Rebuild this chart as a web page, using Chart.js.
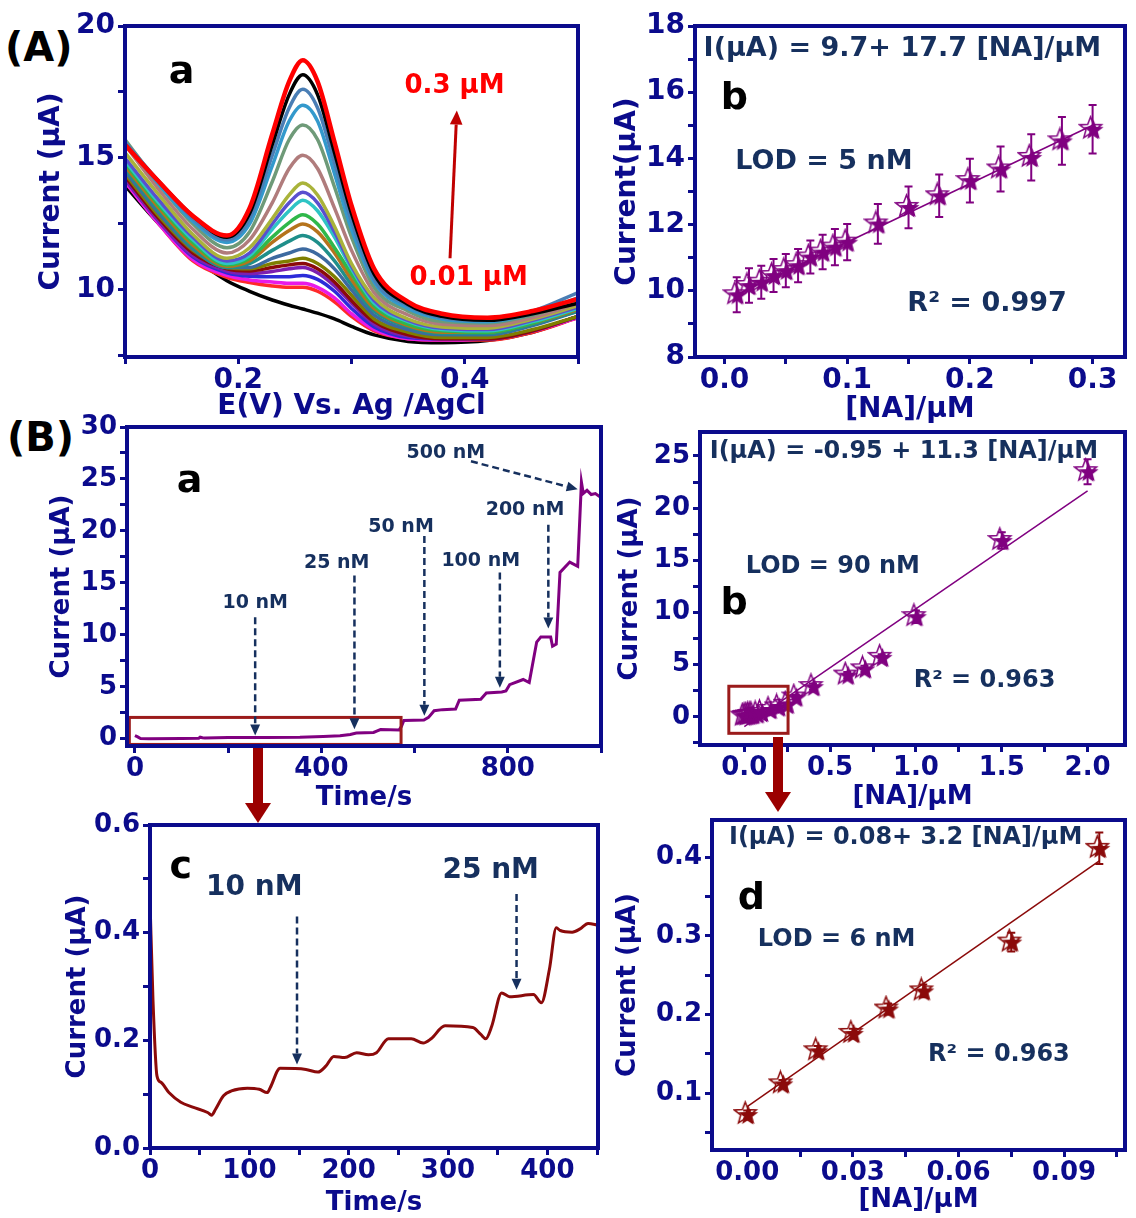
<!DOCTYPE html>
<html>
<head>
<meta charset="utf-8">
<script src="https://cdn.jsdelivr.net/npm/chart.js@4.4.0/dist/chart.umd.min.js"></script>
<style>
  body { margin: 0; background: #fff; }
  #page { position: relative; width: 1136px; height: 1218px; overflow: hidden; background: #fff; }
  #page canvas { position: absolute; }
  .tag { position: absolute; font: bold 40px "DejaVu Sans", sans-serif; color: #000; }
  #links { position: absolute; left: 0; top: 0; pointer-events: none; }
</style>
</head>
<body>
<div id="page">
  <div class="tag" style="left:5px;top:24px">(A)</div>
  <div class="tag" style="left:7px;top:414px">(B)</div>
</div>
<script>
// (A) a - DPV curves, potential grid and one current row per concentration (top one = 0.3 µM)
const dpvE = [0.10, 0.13, 0.16, 0.19, 0.21, 0.23, 0.245, 0.257, 0.27, 0.285, 0.30, 0.32, 0.35, 0.38, 0.42, 0.46, 0.50];
const dpvCurves = [
  [15.5, 14.1, 12.8, 12.06, 13.1, 15.9, 17.9, 18.7, 17.9, 15.6, 13.2, 10.8, 9.55, 9.1, 8.95, 9.2, 9.66],
  [15.5, 14.1, 12.8, 12.0, 12.9, 15.5, 17.4, 18.15, 17.4, 15.2, 12.9, 10.6, 9.45, 9.0, 8.85, 9.1, 9.5],
  [15.6, 14.1, 12.7, 11.9, 12.7, 15.1, 16.9, 17.6, 16.9, 14.8, 12.6, 10.4, 9.4, 8.95, 8.85, 9.2, 9.9],
  [15.6, 14.0, 12.6, 11.8, 12.5, 14.7, 16.4, 17.0, 16.4, 14.4, 12.3, 10.3, 9.3, 8.9, 8.8, 9.1, 9.7],
  [15.7, 14.0, 12.5, 11.6, 12.2, 14.1, 15.7, 16.25, 15.7, 13.9, 12.0, 10.1, 9.2, 8.8, 8.75, 9.05, 9.6],
  [15.5, 13.8, 12.3, 11.4, 11.9, 13.3, 14.6, 15.1, 14.6, 13.1, 11.5, 9.9, 9.05, 8.7, 8.65, 8.95, 9.5],
  [15.2, 13.6, 12.1, 11.2, 11.6, 12.7, 13.6, 14.05, 13.6, 12.4, 11.0, 9.7, 8.9, 8.6, 8.55, 8.9, 9.4],
  [15.0, 13.4, 12.0, 11.1, 11.4, 12.5, 13.3, 13.7, 13.3, 12.2, 10.9, 9.6, 8.85, 8.55, 8.5, 8.85, 9.35],
  [14.9, 13.3, 11.9, 11.0, 11.3, 12.3, 13.0, 13.4, 13.0, 12.0, 10.8, 9.5, 8.8, 8.5, 8.45, 8.8, 9.3],
  [14.8, 13.2, 11.8, 10.95, 11.2, 12.0, 12.55, 12.85, 12.5, 11.6, 10.6, 9.4, 8.7, 8.45, 8.4, 8.75, 9.3],
  [14.7, 13.1, 11.7, 10.9, 11.1, 11.8, 12.25, 12.5, 12.2, 11.4, 10.4, 9.3, 8.65, 8.4, 8.4, 8.75, 9.25],
  [14.6, 13.0, 11.6, 10.85, 11.0, 11.5, 11.85, 12.06, 11.8, 11.1, 10.2, 9.2, 8.6, 8.35, 8.35, 8.7, 9.2],
  [14.5, 12.9, 11.55, 10.85, 10.85, 11.2, 11.4, 11.55, 11.35, 10.8, 10.0, 9.05, 8.5, 8.3, 8.3, 8.65, 9.2],
  [14.4, 12.8, 11.5, 10.85, 10.8, 11.0, 11.1, 11.2, 11.0, 10.5, 9.8, 8.9, 8.4, 8.2, 8.2, 8.5, 9.0],
  [14.3, 12.7, 11.4, 10.8, 10.72, 10.85, 10.95, 11.0, 10.8, 10.3, 9.6, 8.8, 8.3, 8.15, 8.15, 8.45, 9.0],
  [14.2, 12.6, 11.3, 10.72, 10.62, 10.7, 10.8, 10.85, 10.65, 10.15, 9.5, 8.7, 8.25, 8.15, 8.15, 8.45, 9.0],
  [14.2, 12.6, 11.25, 10.65, 10.52, 10.5, 10.5, 10.55, 10.4, 9.95, 9.3, 8.6, 8.2, 8.15, 8.15, 8.45, 9.0],
  [14.1, 12.5, 11.15, 10.55, 10.38, 10.3, 10.25, 10.25, 10.1, 9.7, 9.1, 8.5, 8.15, 8.1, 8.15, 8.45, 8.95],
  [14.1, 12.5, 11.1, 10.48, 10.28, 10.15, 10.1, 10.1, 9.95, 9.55, 9.0, 8.45, 8.15, 8.1, 8.1, 8.4, 8.95],
  [13.95, 12.5, 11.26, 10.35, 9.95, 9.62, 9.42, 9.28, 9.12, 8.9, 8.62, 8.3, 8.05, 8.0, 8.08, 8.4, 8.97]
];
const dpvColors = ['#ff0000', '#000000', '#4a7eb5', '#3399cc', '#6e9a78', '#b07c7c', '#a9b33a', '#5a4fcf',
  '#2ec4c4', '#2fb84a', '#b5731c', '#1f8f8a', '#3d6aa0', '#7f7f00', '#8b0a0a', '#7d1fb0', '#2b2bd9',
  '#e81ae8', '#ff2a2a', '#000000'];

// (A) b - calibration 0.01-0.3 µM
const abConc = [0.01, 0.02, 0.03, 0.04, 0.05, 0.06, 0.07, 0.08, 0.09, 0.1, 0.125, 0.15, 0.175, 0.2, 0.225, 0.25, 0.275, 0.3];
const abCurr = [9.88, 10.16, 10.26, 10.46, 10.61, 10.76, 11.02, 11.17, 11.32, 11.47, 12.02, 12.52, 12.87, 13.33, 13.68, 14.03, 14.53, 14.88];
const abErr = [0.53, 0.52, 0.5, 0.5, 0.5, 0.5, 0.5, 0.52, 0.55, 0.55, 0.6, 0.63, 0.64, 0.66, 0.68, 0.7, 0.72, 0.73];
const abFitX = [0.01, 0.3];
const abFitY = [9.88, 15.0];

// (B) a - amperometric trace
const baTime = [0, 5, 12, 30, 100, 137, 140, 145, 150, 200, 280, 354, 404, 440, 462, 475, 512, 520, 527, 567, 572, 577,
  620, 630, 642, 660, 688, 696, 742, 754, 787, 796, 804, 833, 846, 862, 871, 892, 896, 904, 912, 933, 950, 958, 962,
  970, 979, 988, 1000];
const baCurr = [0.3, 0.2, 0.02, 0.0, 0.02, 0.05, 0.15, 0.1, 0.08, 0.12, 0.12, 0.15, 0.22, 0.28, 0.4, 0.55, 0.6, 0.75,
  0.88, 0.85, 1.2, 1.75, 1.8, 2.05, 2.7, 2.8, 2.85, 3.7, 3.8, 4.4, 4.5, 4.6, 5.2, 5.7, 5.4, 9.3, 9.8, 9.8, 8.9, 9.1,
  16.0, 17.0, 16.6, 24.7, 23.6, 23.9, 23.5, 23.6, 23.2];

// (B) b - calibration 0-2 µM
const bbConc = [0, 0.01, 0.02, 0.03, 0.04, 0.05, 0.075, 0.1, 0.15, 0.2, 0.25, 0.3, 0.4, 0.6, 0.7, 0.8, 1.0, 1.5, 2.0];
const bbCurr = [0.07, 0.11, 0.15, 0.18, 0.21, 0.23, 0.29, 0.41, 0.7, 0.95, 1.2, 1.9, 2.9, 4.0, 4.6, 5.7, 9.6, 16.9, 23.5];
const bbErr = [0.05, 0.05, 0.05, 0.05, 0.05, 0.05, 0.05, 0.05, 0.1, 0.1, 0.1, 0.2, 0.3, 0.3, 0.3, 0.3, 0.6, 0.8, 1.2];
const bbFitX = [0, 2.0];
const bbFitY = [-0.95, 21.65];

// (B) c - zoom of the low-concentration trace
const bcTime = [0, 3, 7, 11, 19, 31, 43, 58, 62, 66, 74, 82, 98, 110, 118, 121, 131, 157, 169, 177, 185, 196, 208,
  220, 228, 240, 263, 275, 283, 297, 325, 333, 338, 344, 354, 362, 386, 394, 402, 409, 413, 425, 433, 441, 451];
const bcCurr = [0.46, 0.275, 0.134, 0.122, 0.103, 0.085, 0.076, 0.066, 0.061, 0.072, 0.097, 0.106, 0.111, 0.109,
  0.103, 0.112, 0.148, 0.146, 0.141, 0.152, 0.170, 0.168, 0.177, 0.173, 0.177, 0.203, 0.203, 0.195, 0.203, 0.227,
  0.224, 0.211, 0.203, 0.226, 0.288, 0.281, 0.285, 0.270, 0.331, 0.409, 0.404, 0.401, 0.407, 0.417, 0.414];

// (B) d - calibration 0-0.1 µM
const bdConc = [0, 0.01, 0.02, 0.03, 0.04, 0.05, 0.075, 0.1];
const bdCurr = [0.073, 0.112, 0.154, 0.176, 0.207, 0.23, 0.292, 0.411];
const bdErr = [0.005, 0.005, 0.006, 0.006, 0.007, 0.008, 0.012, 0.02];
const bdFitX = [0, 0.1];
const bdFitY = [0.083, 0.395];

const NAVY = '#0b0b8c';
const INK = '#16305e';
const FONT = '"DejaVu Sans", sans-serif';
Chart.defaults.font.family = FONT;
Chart.defaults.font.weight = 'bold';

function pts(xs, ys) { return xs.map((x, i) => ({x: x, y: ys[i]})); }

function starImg(color, size) {
  const c = document.createElement('canvas');
  c.width = size + 6; c.height = size + 6;
  const g = c.getContext('2d');
  const star = (cx, cy, r) => {
    g.beginPath();
    for (let i = 0; i < 10; i++) {
      const rr = i % 2 ? r * 0.42 : r;
      const a = -Math.PI / 2 + i * Math.PI / 5;
      g.lineTo(cx + rr * Math.cos(a), cy + rr * Math.sin(a));
    }
    g.closePath();
  };
  star(size / 2 + 1, size / 2 + 2, size / 2);
  g.strokeStyle = color; g.lineWidth = 1.5; g.stroke();
  star(size / 2 + 4, size / 2 + 4, size / 2 - 1);
  g.fillStyle = color; g.fill();
  return c;
}

function arrow(ctx, x1, y1, x2, y2, color, w, dash, head) {
  const a = Math.atan2(y2 - y1, x2 - x1);
  const hx = x2 - head * Math.cos(a), hy = y2 - head * Math.sin(a);
  ctx.strokeStyle = color; ctx.lineWidth = w; ctx.setLineDash(dash || []);
  ctx.beginPath(); ctx.moveTo(x1, y1); ctx.lineTo(hx, hy); ctx.stroke();
  ctx.setLineDash([]);
  ctx.fillStyle = color;
  ctx.beginPath(); ctx.moveTo(x2, y2);
  ctx.lineTo(hx + head * 0.45 * Math.sin(a), hy - head * 0.45 * Math.cos(a));
  ctx.lineTo(hx - head * 0.45 * Math.sin(a), hy + head * 0.45 * Math.cos(a));
  ctx.closePath(); ctx.fill();
}

// error bars, frame box and annotations drawn in data space
function decor(n) {
  return {
    id: 'decor',
    beforeDatasetsDraw(chart) {
      const {ctx, scales: {y}} = chart;
      ctx.save();
      chart.data.datasets.forEach((ds, i) => {
        if (!ds.errs) return;
        const meta = chart.getDatasetMeta(i);
        ctx.strokeStyle = ds.barColor; ctx.lineWidth = 2;
        ds.data.forEach((p, j) => {
          const e = ds.errs[j];
          if (!e) return;
          const px = meta.data[j].x;
          const y1 = y.getPixelForValue(p.y + e), y2 = y.getPixelForValue(p.y - e);
          ctx.beginPath();
          ctx.moveTo(px, y1); ctx.lineTo(px, y2);
          ctx.moveTo(px - 4, y1); ctx.lineTo(px + 4, y1);
          ctx.moveTo(px - 4, y2); ctx.lineTo(px + 4, y2);
          ctx.stroke();
        });
      });
      ctx.restore();
    },
    afterDraw(chart) {
      const {ctx, chartArea: a, scales: {x, y}} = chart;
      ctx.save();
      (n.boxes || []).forEach(b => {
        ctx.strokeStyle = '#9b1b1b'; ctx.lineWidth = 3;
        const l = x.getPixelForValue(b[0]), t = y.getPixelForValue(b[3]);
        ctx.strokeRect(l, t, x.getPixelForValue(b[2]) - l, y.getPixelForValue(b[1]) - t);
      });
      (n.arrows || []).forEach(r => {
        arrow(ctx, x.getPixelForValue(r.x1), y.getPixelForValue(r.y1), x.getPixelForValue(r.x2),
          y.getPixelForValue(r.y2), r.c || INK, r.w || 2.5, r.dash === false ? [] : [7, 4], r.head || 11);
      });
      (n.texts || []).forEach(t => {
        ctx.font = 'bold ' + t.s + 'px ' + FONT;
        ctx.fillStyle = t.c || INK;
        ctx.textAlign = 'center'; ctx.textBaseline = 'middle';
        ctx.fillText(t.t, x.getPixelForValue(t.x), y.getPixelForValue(t.y));
      });
      ctx.strokeStyle = NAVY; ctx.lineWidth = 4;
      ctx.strokeRect(a.left, a.top, a.width, a.height);
      ctx.restore();
    }
  };
}

function axis(o) {
  return {
    type: 'linear', min: o.min, max: o.max,
    afterBuildTicks: s => { s.ticks = o.ticks.map(v => ({value: v})); },
    afterFit: s => { if (s.isHorizontal()) s.height = o.size; else s.width = o.size; },
    grid: {drawOnChartArea: false, drawTicks: true, tickLength: 7, tickWidth: 3, tickColor: NAVY},
    border: {display: false},
    ticks: {
      color: NAVY, autoSkip: false, maxRotation: 0, padding: 3,
      font: {size: o.fs, weight: 'bold', lineHeight: 1},
      callback: v => o.labels.includes(v) ? v.toFixed(o.dec) : ''
    },
    title: {
      display: true, text: o.title, color: NAVY,
      font: {size: o.fs, weight: 'bold', lineHeight: 1},
      padding: {top: o.tp, bottom: o.tp}
    }
  };
}

// box = canvas [left, top, w, h]; plot = [left, top, right, bottom] in page pixels
function panel(box, plot, datasets, xo, yo, notes) {
  const cv = document.createElement('canvas');
  cv.width = box[2]; cv.height = box[3];
  cv.style.left = box[0] + 'px'; cv.style.top = box[1] + 'px';
  document.getElementById('page').appendChild(cv);
  xo.size = box[1] + box[3] - plot[3];
  yo.size = plot[0] - box[0];
  xo.tp = box[1] + box[3] - xo.tc - xo.fs / 2;
  yo.tp = yo.tc - box[0] - yo.fs / 2;
  new Chart(cv, {
    type: 'scatter',
    data: {datasets: datasets},
    options: {
      responsive: false, animation: false, events: [],
      layout: {padding: {left: 0, top: plot[1] - box[1], right: box[0] + box[2] - plot[2], bottom: 0}},
      scales: {x: axis(xo), y: axis(yo)},
      plugins: {legend: {display: false}, tooltip: {enabled: false}}
    },
    plugins: [decor(notes)]
  });
}

const line = (xs, ys, color, w, extra) => Object.assign({
  data: pts(xs, ys), showLine: true, borderColor: color, borderWidth: w, pointRadius: 0, tension: 0
}, extra || {});
const stars = (xs, ys, errs, color) => ({
  data: pts(xs, ys), showLine: false, pointStyle: starImg(color, 23), pointRadius: 10,
  borderColor: color, backgroundColor: color, errs: errs, barColor: color
});
const smooth = {tension: 0.4, cubicInterpolationMode: 'monotone'};

const PURPLE = '#800080';
const MAROON = '#8b0a0a';

// (A) a
panel([0, 0, 590, 425], [125, 26, 578, 357],
  dpvCurves.map((ys, i) => line(dpvE, ys, dpvColors[i], i === 0 ? 4.5 : 3.5, smooth)),
  {min: 0.1, max: 0.5, ticks: [0.1, 0.2, 0.3, 0.4, 0.5], labels: [0.2, 0.4], dec: 1, fs: 28, title: 'E(V) Vs. Ag /AgCl', tc: 407},
  {min: 7.46, max: 20, ticks: [7.5, 10, 12.5, 15, 17.5, 20], labels: [10, 15, 20], dec: 0, fs: 28, title: 'Current (µA)', tc: 52},
  {
    texts: [
      {x: 0.15, y: 18.2, t: 'a', s: 38, c: '#000'},
      {x: 0.391, y: 17.73, t: '0.3 µM', s: 26, c: '#ff0000'},
      {x: 0.4035, y: 10.45, t: '0.01 µM', s: 26, c: '#ff0000'}
    ],
    arrows: [{x1: 0.387, y1: 11.2, x2: 0.393, y2: 16.8, c: '#c00000', w: 3, dash: false, head: 14}]
  });

// (A) b
panel([590, 0, 546, 425], [695, 26, 1133, 357],
  [stars(abConc, abCurr, abErr, PURPLE), line(abFitX, abFitY, PURPLE, 1.5)],
  {min: -0.024, max: 0.3264, ticks: [0, 0.05, 0.1, 0.15, 0.2, 0.25, 0.3], labels: [0, 0.1, 0.2, 0.3], dec: 1, fs: 28, title: '[NA]/µM', tc: 410},
  {min: 8, max: 18, ticks: [8, 9, 10, 11, 12, 13, 14, 15, 16, 17, 18], labels: [8, 10, 12, 14, 16, 18], dec: 0, fs: 28, title: 'Current(µA)', tc: 628},
  {
    texts: [
      {x: 0.145, y: 17.3, t: 'I(µA) = 9.7+ 17.7 [NA]/µM', s: 27},
      {x: 0.008, y: 15.8, t: 'b', s: 38, c: '#000'},
      {x: 0.081, y: 13.9, t: 'LOD = 5 nM', s: 27},
      {x: 0.214, y: 9.6, t: 'R² = 0.997', s: 27}
    ]
  });

// (B) a
panel([0, 410, 615, 405], [127, 427, 601, 746],
  [line(baTime, baCurr, PURPLE, 3)],
  {min: -17, max: 1000, ticks: [0, 200, 400, 600, 800, 1000], labels: [0, 400, 800], dec: 0, fs: 26, title: 'Time/s', tc: 798},
  {min: -0.7, max: 30, ticks: [0, 2.5, 5, 7.5, 10, 12.5, 15, 17.5, 20, 22.5, 25, 27.5, 30], labels: [0, 5, 10, 15, 20, 25, 30], dec: 0, fs: 26, title: 'Current (µA)', tc: 62},
  {
    texts: [
      {x: 117, y: 24.7, t: 'a', s: 38, c: '#000'},
      {x: 258, y: 13.1, t: '10 nM', s: 19},
      {x: 433, y: 16.9, t: '25 nM', s: 19},
      {x: 571, y: 20.4, t: '50 nM', s: 19},
      {x: 742, y: 17.1, t: '100 nM', s: 19},
      {x: 837, y: 22.0, t: '200 nM', s: 19},
      {x: 667, y: 27.5, t: '500 nM', s: 19}
    ],
    arrows: [
      {x1: 258, y1: 11.7, x2: 258, y2: 0.3},
      {x1: 471, y1: 15.7, x2: 471, y2: 0.9},
      {x1: 621, y1: 19.5, x2: 621, y2: 2.2},
      {x1: 783, y1: 16.0, x2: 783, y2: 4.9},
      {x1: 887, y1: 20.6, x2: 887, y2: 10.6},
      {x1: 721, y1: 26.7, x2: 950, y2: 24.0}
    ],
    boxes: [[-12, -0.55, 571, 2.05]]
  });

// (B) b
panel([615, 415, 521, 400], [700, 432, 1132, 745],
  [stars(bbConc, bbCurr, bbErr, PURPLE), line(bbFitX, bbFitY, PURPLE, 1.5)],
  {min: -0.258, max: 2.218, ticks: [0, 0.25, 0.5, 0.75, 1, 1.25, 1.5, 1.75, 2], labels: [0, 0.5, 1, 1.5, 2], dec: 1, fs: 26, title: '[NA]/µM', tc: 797},
  {min: -2.7, max: 27.3, ticks: [-2.5, 0, 2.5, 5, 7.5, 10, 12.5, 15, 17.5, 20, 22.5, 25], labels: [0, 5, 10, 15, 20, 25], dec: 0, fs: 26, title: 'Current (µA)', tc: 630},
  {
    texts: [
      {x: 0.93, y: 25.4, t: 'I(µA) = -0.95 + 11.3 [NA]/µM', s: 24},
      {x: 0.516, y: 14.4, t: 'LOD = 90 nM', s: 24},
      {x: -0.06, y: 10.8, t: 'b', s: 38, c: '#000'},
      {x: 1.40, y: 3.5, t: 'R² = 0.963', s: 24}
    ],
    boxes: [[-0.09, -1.58, 0.255, 2.93]]
  });

// (B) c
panel([0, 805, 615, 413], [150, 825, 598, 1148],
  [line(bcTime, bcCurr, MAROON, 3, {tension: 0.2, cubicInterpolationMode: 'monotone'})],
  {min: 0, max: 451, ticks: [0, 50, 100, 150, 200, 250, 300, 350, 400, 450], labels: [0, 100, 200, 300, 400], dec: 0, fs: 26, title: 'Time/s', tc: 1203},
  {min: 0, max: 0.6, ticks: [0, 0.1, 0.2, 0.3, 0.4, 0.5, 0.6], labels: [0, 0.2, 0.4, 0.6], dec: 1, fs: 26, title: 'Current (µA)', tc: 78},
  {
    texts: [
      {x: 31, y: 0.52, t: 'c', s: 38, c: '#000'},
      {x: 105, y: 0.483, t: '10 nM', s: 28},
      {x: 343, y: 0.515, t: '25 nM', s: 28}
    ],
    arrows: [
      {x1: 148, y1: 0.43, x2: 148, y2: 0.155},
      {x1: 369, y1: 0.472, x2: 369, y2: 0.294}
    ]
  });

// (B) d
panel([615, 800, 521, 418], [712, 820, 1132, 1150],
  [stars(bdConc, bdCurr, bdErr, MAROON), line(bdFitX, bdFitY, MAROON, 1.5)],
  {min: -0.01, max: 0.1073, ticks: [0, 0.015, 0.03, 0.045, 0.06, 0.075, 0.09, 0.105], labels: [0, 0.03, 0.06, 0.09], dec: 2, fs: 26, title: '[NA]/µM', tc: 1200},
  {min: 0.028, max: 0.447, ticks: [0.05, 0.1, 0.15, 0.2, 0.25, 0.3, 0.35, 0.4], labels: [0.1, 0.2, 0.3, 0.4], dec: 1, fs: 26, title: 'Current (µA)', tc: 628},
  {
    texts: [
      {x: 0.045, y: 0.424, t: 'I(µA) = 0.08+ 3.2 [NA]/µM', s: 24},
      {x: 0.0012, y: 0.346, t: 'd', s: 38, c: '#000'},
      {x: 0.0254, y: 0.295, t: 'LOD = 6 nM', s: 24},
      {x: 0.0715, y: 0.1495, t: 'R² = 0.963', s: 24}
    ]
  });
</script>
<svg id="links" width="1136" height="1218" xmlns="http://www.w3.org/2000/svg">
  <rect x="253" y="748" width="10" height="56" fill="#9b0000"/>
  <polygon points="245,803 271,803 258,823" fill="#9b0000"/>
  <rect x="773" y="737" width="10" height="56" fill="#9b0000"/>
  <polygon points="765,792 791,792 778,812" fill="#9b0000"/>
</svg>
<script>document.getElementById('page').appendChild(document.getElementById('links'));</script>
</body>
</html>
